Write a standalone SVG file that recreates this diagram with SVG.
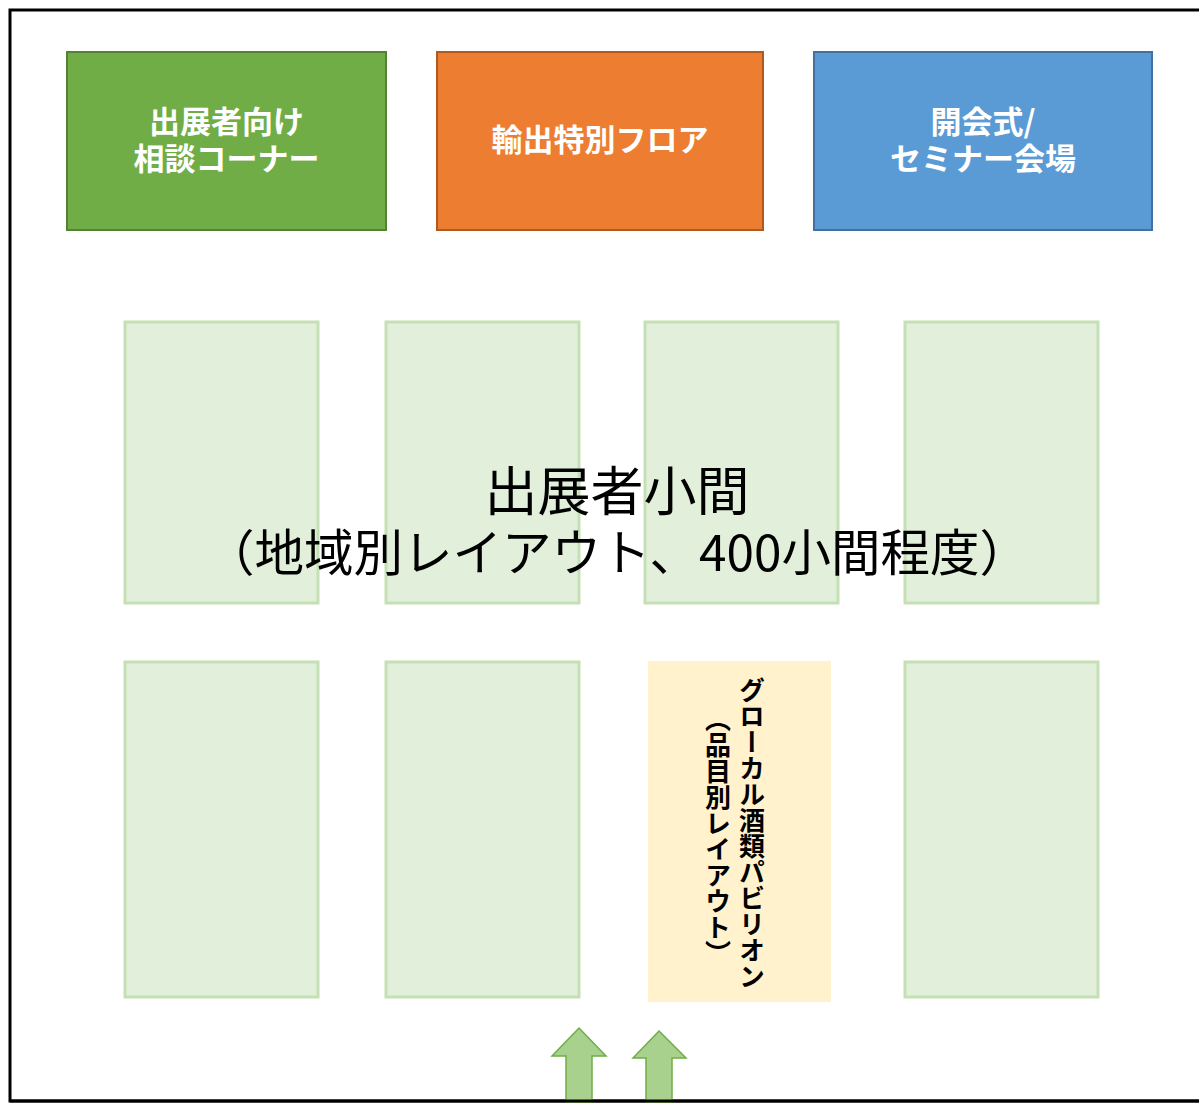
<svg xmlns="http://www.w3.org/2000/svg" width="1199" height="1103" viewBox="0 0 1199 1103">
<style>
.cjk{font-family:"Noto Sans CJK JP","Noto Sans",sans-serif}
.hdr{font-size:31px;font-weight:bold;fill:#ffffff;text-anchor:middle}
.booth{fill:#e2efda;stroke:#c5e0b4;stroke-width:3}
.arrow{fill:#a9d18e;stroke:#70ad47;stroke-width:1.5}
.vert{writing-mode:vertical-rl;font-size:26px;font-weight:bold;fill:#000}
</style>
<rect x="0" y="0" width="1199" height="1103" fill="#ffffff"/>
<g id="frame"><rect x="10" y="10" width="1200" height="1091" fill="none" stroke="#000000" stroke-width="3"/></g>
<g id="consult">
<rect x="67" y="52" width="319" height="178" fill="#70ad47" stroke="#548235" stroke-width="2"/>
<text class="cjk hdr" x="226.5" y="133">出展者向け</text>
<text class="cjk hdr" x="226.5" y="170">相談コーナー</text>
</g>
<g id="export">
<rect x="437" y="52" width="326" height="178" fill="#ed7d31" stroke="#ae5a21" stroke-width="2"/>
<text class="cjk hdr" x="600" y="151">輸出特別フロア</text>
</g>
<g id="seminar">
<rect x="814" y="52" width="338" height="178" fill="#5b9bd5" stroke="#41719c" stroke-width="2"/>
<text class="cjk hdr" x="983" y="133">開会式/</text>
<text class="cjk hdr" x="983" y="170">セミナー会場</text>
</g>
<g id="booths">
<rect class="booth" x="125" y="322" width="193" height="281"/>
<rect class="booth" x="386" y="322" width="193" height="281"/>
<rect class="booth" x="645" y="322" width="193" height="281"/>
<rect class="booth" x="905" y="322" width="193" height="281"/>
<rect class="booth" x="125" y="662" width="193" height="335"/>
<rect class="booth" x="386" y="662" width="193" height="335"/>
<rect class="booth" x="905" y="662" width="193" height="335"/>
</g>
<g id="pavilion">
<rect x="648" y="661" width="183" height="341" fill="#fff2cc"/>
<text class="cjk vert" x="752" y="677">グローカル酒類パビリオン</text>
<text class="cjk vert" x="718" y="706">（品目別レイアウト）</text>
</g>
<g id="main-label">
<text class="cjk" x="617" y="511" style="font-size:53px;text-anchor:middle;fill:#000">出展者小間</text>
<text class="cjk" x="617" y="571" style="font-size:49.5px;text-anchor:middle;fill:#000">（地域別レイアウト、400小間程度）</text>
</g>
<g id="connectors">
<polygon class="arrow" points="579,1028 606,1056 592,1056 592,1103 566,1103 566,1056 552,1056"/>
<polygon class="arrow" points="659,1031 686,1058 672,1058 672,1103 646,1103 646,1058 633,1058"/>
</g>
<line x1="10" y1="1101" x2="1199" y2="1101" stroke="#000" stroke-width="3"/>
</svg>
